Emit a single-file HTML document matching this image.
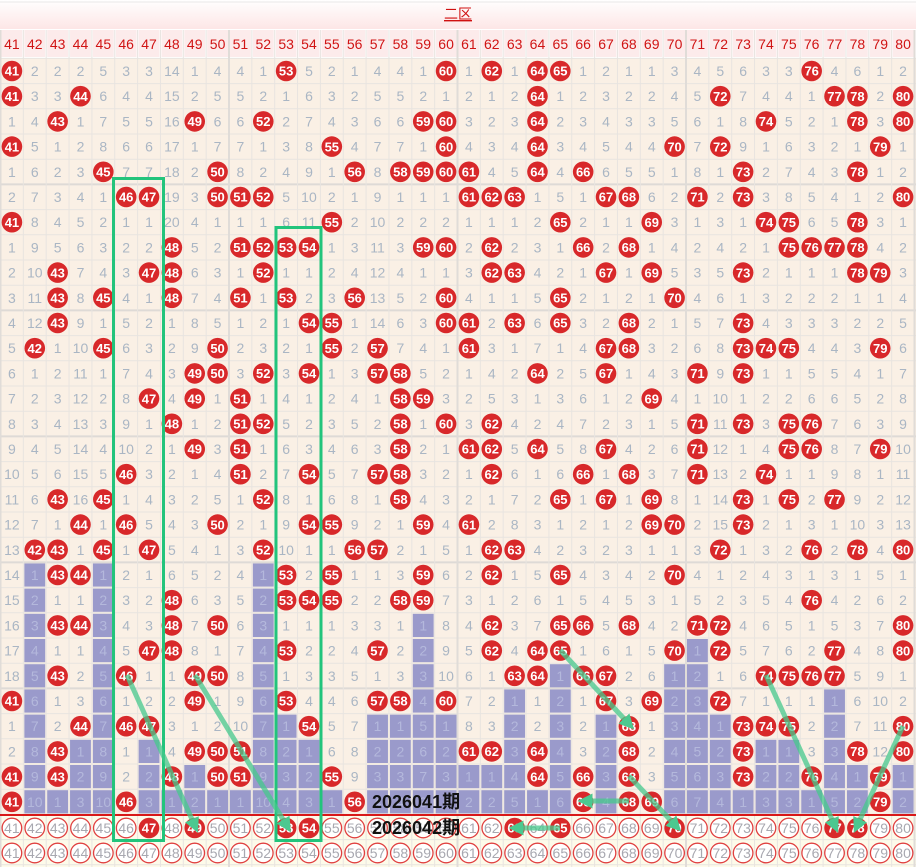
<!DOCTYPE html>
<html><head><meta charset="utf-8"><style>
html,body{margin:0;padding:0;background:#fff;width:916px;height:867px;overflow:hidden}
svg{display:block;font-family:"Liberation Sans","Noto Sans CJK SC",sans-serif}
</style></head><body>
<svg id="s" width="916" height="867" viewBox="0 0 916 867" xmlns="http://www.w3.org/2000/svg">
<defs>
<linearGradient id="hg" x1="0" y1="0" x2="0" y2="1"><stop offset="0" stop-color="#ffffff"/><stop offset="1" stop-color="#fde6e6"/></linearGradient>
<marker id="ah" markerWidth="3" markerHeight="3" refX="1.5" refY="1.5" orient="auto"><path d="M0,0 L3,1.5 L0,3 z" fill="#4cc890"/></marker>
</defs>
<rect x="0" y="0" width="916" height="29" fill="url(#hg)"/>
<line x1="0" y1="2" x2="916" y2="2" stroke="#e8e8e8"/>
<text x="458" y="19" font-size="14" fill="#d01010" text-anchor="middle" text-decoration="underline">二区</text>
<g id="g"></g>
</svg>
<script>
const R=[
"41 2 2 2 5 3 3 14 1 4 4 1 53 5 2 1 4 4 1 60 1 62 1 64 65 1 2 1 1 3 4 5 6 3 3 76 4 6 1 2",
"41 3 3 44 6 4 4 15 2 5 5 2 1 6 3 2 5 5 2 1 2 1 2 64 1 2 3 2 2 4 5 72 7 4 4 1 77 78 2 80",
"1 4 43 1 7 5 5 16 49 6 6 52 2 7 4 3 6 6 59 60 3 2 3 64 2 3 4 3 3 5 6 1 8 74 5 2 1 78 3 80",
"41 5 1 2 8 6 6 17 1 7 7 1 3 8 55 4 7 7 1 60 4 3 4 64 3 4 5 4 4 70 7 72 9 1 6 3 2 1 79 1",
"1 6 2 3 45 7 7 18 2 50 8 2 4 9 1 56 8 58 59 60 61 4 5 64 4 66 6 5 5 1 8 1 73 2 7 4 3 78 1 2",
"2 7 3 4 1 46 47 19 3 50 51 52 5 10 2 1 9 1 1 1 61 62 63 1 5 1 67 68 6 2 71 2 73 3 8 5 4 1 2 80",
"41 8 4 5 2 1 1 20 4 1 1 1 6 11 55 2 10 2 2 2 1 1 1 2 65 2 1 1 69 3 1 3 1 74 75 6 5 78 3 1",
"1 9 5 6 3 2 2 48 5 2 51 52 53 54 1 3 11 3 59 60 2 62 2 3 1 66 2 68 1 4 2 4 2 1 75 76 77 78 4 2",
"2 10 43 7 4 3 47 48 6 3 1 52 1 1 2 4 12 4 1 1 3 62 63 4 2 1 67 1 69 5 3 5 73 2 1 1 1 78 79 3",
"3 11 43 8 45 4 1 48 7 4 51 1 53 2 3 56 13 5 2 60 4 1 1 5 65 2 1 2 1 70 4 6 1 3 2 2 2 1 1 4",
"4 12 43 9 1 5 2 1 8 5 1 2 1 54 55 1 14 6 3 60 61 2 63 6 65 3 2 68 2 1 5 7 73 4 3 3 3 2 2 5",
"5 42 1 10 45 6 3 2 9 50 2 3 2 1 55 2 57 7 4 1 61 3 1 7 1 4 67 68 3 2 6 8 73 74 75 4 4 3 79 6",
"6 1 2 11 1 7 4 3 49 50 3 52 3 54 1 3 57 58 5 2 1 4 2 64 2 5 67 1 4 3 71 9 73 1 1 5 5 4 1 7",
"7 2 3 12 2 8 47 4 49 1 51 1 4 1 2 4 1 58 59 3 2 5 3 1 3 6 1 2 69 4 1 10 1 2 2 6 6 5 2 8",
"8 3 4 13 3 9 1 48 1 2 51 52 5 2 3 5 2 58 1 60 3 62 4 2 4 7 2 3 1 5 71 11 73 3 75 76 7 6 3 9",
"9 4 5 14 4 10 2 1 49 3 51 1 6 3 4 6 3 58 2 1 61 62 5 64 5 8 67 4 2 6 71 12 1 4 75 76 8 7 79 10",
"10 5 6 15 5 46 3 2 1 4 51 2 7 54 5 7 57 58 3 2 1 62 6 1 6 66 1 68 3 7 71 13 2 74 1 1 9 8 1 11",
"11 6 43 16 45 1 4 3 2 5 1 52 8 1 6 8 1 58 4 3 2 1 7 2 65 1 67 1 69 8 1 14 73 1 75 2 77 9 2 12",
"12 7 1 44 1 46 5 4 3 50 2 1 9 54 55 9 2 1 59 4 61 2 8 3 1 2 1 2 69 70 2 15 73 2 1 3 1 10 3 13",
"13 42 43 1 45 1 47 5 4 1 3 52 10 1 1 56 57 2 1 5 1 62 63 4 2 3 2 3 1 1 3 72 1 3 2 76 2 78 4 80",
"14 1 43 44 1 2 1 6 5 2 4 1 53 2 55 1 1 3 59 6 2 62 1 5 65 4 3 4 2 70 4 1 2 4 3 1 3 1 5 1",
"15 2 1 1 2 3 2 48 6 3 5 2 53 54 55 2 2 58 59 7 3 1 2 6 1 5 4 5 3 1 5 2 3 5 4 76 4 2 6 2",
"16 3 43 44 3 4 3 48 7 50 6 3 1 1 1 3 3 1 1 8 4 62 3 7 65 66 5 68 4 2 71 72 4 6 5 1 5 3 7 80",
"17 4 1 1 4 5 47 48 8 1 7 4 53 2 2 4 57 2 2 9 5 62 4 64 65 1 6 1 5 70 1 72 5 7 6 2 77 4 8 80",
"18 5 43 2 5 46 1 1 49 50 8 5 1 3 3 5 1 3 3 10 6 1 63 64 1 66 67 2 6 1 2 1 6 74 75 76 77 5 9 1",
"41 6 1 3 6 1 2 2 49 1 9 6 53 4 4 6 57 58 4 60 7 2 1 1 2 1 67 3 69 2 3 72 7 1 1 1 1 6 10 2",
"1 7 2 44 7 46 47 3 1 2 10 7 1 54 5 7 1 1 5 1 8 3 2 2 3 2 1 68 1 3 4 1 73 74 75 2 2 7 11 80",
"2 8 43 1 8 1 1 4 49 50 51 8 2 1 6 8 2 2 6 2 61 62 3 64 4 3 2 68 2 4 5 2 73 1 1 3 3 78 12 80",
"41 9 43 2 9 2 2 48 1 50 51 9 3 2 55 9 3 3 7 3 1 1 4 64 5 66 3 68 3 5 6 3 73 2 2 76 4 1 79 1",
"41 10 1 3 10 46 3 1 2 1 1 10 4 3 1 56 4 4 8 4 2 2 5 1 6 66 4 68 69 6 7 4 1 3 3 1 5 2 79 2"
].map(r=>r.split(" ").map(Number));
const HIT=[47,49,53,54,63,65,70,77,78];
const W=22.85,X0=0.5,RH=25.2;
const cx=c=>X0+W*c+W/2, cy=r=>71+r*RH;
let o="";
for(let c=0;c<40;c++){o+=`<rect x="${X0+W*c+1}" y="30" width="${W-2}" height="27" fill="#fcebeb"/><text x="${cx(c)}" y="49" font-size="14" fill="#d01414" text-anchor="middle">${41+c}</text>`;}
o+=`<rect x="0" y="58.4" width="916" height="${30*RH}" fill="#faf0e5"/>`;
o+=`<rect x="0" y="${58.4+30*RH}" width="916" height="${867-58.4-30*RH}" fill="#fdfbea"/>`;
const last=[];for(let c=0;c<40;c++){let l=-1;for(let r=0;r<30;r++)if(R[r][c]==41+c)l=r;last[c]=l;}
for(let c=0;c<40;c++)for(let r=last[c]+1;r<30;r++){o+=`<rect x="${X0+W*c+1}" y="${cy(r)-RH/2+1}" width="${W-2}" height="${RH-2}" fill="#9a9acb"/>`;}
for(let r=0;r<=32;r++){const y=58.4+r*RH;const th=(r%5==0&&r>0&&r<30);o+=`<line x1="0" y1="${y}" x2="916" y2="${y}" stroke="${th?'#dedad6':'#e8e4e0'}" stroke-width="${th?2:1}"/>`;}
for(let c=0;c<=40;c++){const x=X0+W*c;const th=(c%10==0);o+=`<line x1="${x}" y1="30" x2="${x}" y2="867" stroke="${th?'#e0dcd8':'#e8e4e0'}" stroke-width="${th?2:1}"/>`;}
for(let r=0;r<30;r++)for(let c=0;c<40;c++){const v=R[r][c],x=cx(c),y=cy(r);
 if(v==41+c){o+=`<circle cx="${x}" cy="${y}" r="10.3" fill="#d8282a"/><text x="${x}" y="${y+4.7}" font-size="13" font-weight="bold" fill="#fff" text-anchor="middle">${v}</text>`;}
 else{const b=r>last[c];o+=`<text x="${x}" y="${y+5}" font-size="14" fill="${b?'#b4b8dc':'#aab6c4'}" text-anchor="middle">${v}</text>`;}}
o+=`<line x1="0" y1="815" x2="916" y2="815" stroke="#d81818" stroke-width="2"/>`;
for(let k=0;k<2;k++)for(let c=0;c<40;c++){const x=cx(c),y=k?853:828,n=41+c;
 if(k==0&&HIT.includes(n)){o+=`<circle cx="${x}" cy="${y}" r="10.3" fill="#d8282a"/><text x="${x}" y="${y+4.7}" font-size="13" font-weight="bold" fill="#fff" text-anchor="middle">${n}</text>`;}
 else{o+=`<circle cx="${x}" cy="${y}" r="9.8" fill="#fff" stroke="#e04040" stroke-width="1.3"/><text x="${x}" y="${y+5}" font-size="14" fill="#a8a8b0" text-anchor="middle">${n}</text>`;}}
o+=`<rect x="113.5" y="178.5" width="50" height="662" fill="none" stroke="#22c47c" stroke-width="3"/>`;
o+=`<rect x="276" y="227.5" width="45" height="613" fill="none" stroke="#22c47c" stroke-width="3"/>`;
const A=[[127,675,195,826],[195,675,287,826],[560,650,629,724],[629,776,676,826],[629,801,585,801],[560,828,516,828],[766,675,835,826],[903,726,857,826]];
for(const a of A)o+=`<line x1="${a[0]}" y1="${a[1]}" x2="${a[2]}" y2="${a[3]}" stroke="rgba(70,200,140,0.75)" stroke-width="5" marker-end="url(#ah)"/>`;
o+=`<text x="372" y="808" font-size="18" font-weight="bold" fill="#111">2026041期</text>`;
o+=`<text x="372" y="834" font-size="18" font-weight="bold" fill="#111">2026042期</text>`;
document.getElementById("g").innerHTML=o;
</script>
</body></html>
